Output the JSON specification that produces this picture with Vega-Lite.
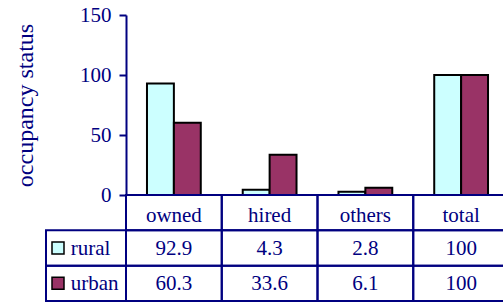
{
  "$schema": "https://vega.github.io/schema/vega-lite/v6.json",
  "width": 377,
  "height": 180,
  "autosize": {"type": "none"},
  "padding": {"left": 126, "top": 15, "right": 0, "bottom": 107},
  "background": "white",
  "config": {"view": {"stroke": null}, "font": "Liberation Serif"},
  "datasets": {
    "vals": [
      {"cat": "owned", "series": "rural", "value": 92.9},
      {"cat": "owned", "series": "urban", "value": 60.3},
      {"cat": "hired", "series": "rural", "value": 4.3},
      {"cat": "hired", "series": "urban", "value": 33.6},
      {"cat": "others", "series": "rural", "value": 2.8},
      {"cat": "others", "series": "urban", "value": 6.1},
      {"cat": "total", "series": "rural", "value": 100},
      {"cat": "total", "series": "urban", "value": 100}
    ],
    "cats": [{"cat": "owned"}, {"cat": "hired"}, {"cat": "others"}, {"cat": "total"}],
    "series": [{"series": "rural", "col": "legend"}, {"series": "urban", "col": "legend"}]
  },
  "resolve": {"scale": {"x": "independent", "y": "independent"}},
  "layer": [
    {
      "data": {"name": "vals"},
      "mark": {"type": "bar", "stroke": "black", "strokeWidth": 2},
      "encoding": {
        "x": {"field": "cat", "type": "nominal", "sort": null,
          "scale": {"domain": ["owned", "hired", "others", "total"], "range": [0, 383], "paddingInner": 0, "paddingOuter": 0},
          "axis": null},
        "xOffset": {"field": "series", "type": "nominal",
          "scale": {"domain": ["rural", "urban"], "paddingInner": 0, "paddingOuter": 0.78}},
        "y": {"field": "value", "type": "quantitative",
          "scale": {"domain": [0, 150], "nice": false},
          "axis": {"values": [0, 50, 100, 150], "title": "occupancy status", "grid": false,
            "titleFont": "Liberation Serif", "titleFontSize": 24, "titleFontWeight": "normal", "titleColor": "#000080", "titlePadding": 42,
            "labelFont": "Liberation Serif", "labelFontSize": 21, "labelColor": "#000080", "labelPadding": 8,
            "tickColor": "#000080", "tickWidth": 2, "tickSize": 7, "domainColor": "#000080", "domainWidth": 2}},
        "fill": {"field": "series", "type": "nominal",
          "scale": {"domain": ["rural", "urban"], "range": ["#CCFFFF", "#993366"]}, "legend": null}
      }
    },
    {
      "data": {"name": "cats"},
      "mark": {"type": "rect", "fill": "transparent", "stroke": "#000080", "strokeWidth": 2},
      "encoding": {
        "x": {"field": "cat", "type": "nominal", "sort": null,
          "scale": {"domain": ["owned", "hired", "others", "total"], "range": [0, 383], "paddingInner": 0, "paddingOuter": 0},
          "axis": null},
        "y": {"datum": "header", "type": "nominal",
          "scale": {"domain": ["header", "rural", "urban"], "range": [180, 286], "paddingInner": 0, "paddingOuter": 0},
          "axis": null}
      }
    },
    {
      "data": {"name": "cats"},
      "mark": {"type": "text", "font": "Liberation Serif", "fontSize": 21, "color": "#000080", "dy": 3},
      "encoding": {
        "x": {"field": "cat", "type": "nominal", "sort": null,
          "scale": {"domain": ["owned", "hired", "others", "total"], "range": [0, 383], "paddingInner": 0, "paddingOuter": 0},
          "axis": null},
        "y": {"datum": "header", "type": "nominal",
          "scale": {"domain": ["header", "rural", "urban"], "range": [180, 286], "paddingInner": 0, "paddingOuter": 0},
          "axis": null},
        "text": {"field": "cat", "type": "nominal"}
      }
    },
    {
      "data": {"name": "vals"},
      "mark": {"type": "rect", "fill": "transparent", "stroke": "#000080", "strokeWidth": 2},
      "encoding": {
        "x": {"field": "cat", "type": "nominal", "sort": null,
          "scale": {"domain": ["owned", "hired", "others", "total"], "range": [0, 383], "paddingInner": 0, "paddingOuter": 0},
          "axis": null},
        "y": {"field": "series", "type": "nominal",
          "scale": {"domain": ["header", "rural", "urban"], "range": [180, 286], "paddingInner": 0, "paddingOuter": 0},
          "axis": null}
      }
    },
    {
      "data": {"name": "vals"},
      "mark": {"type": "text", "font": "Liberation Serif", "fontSize": 21, "color": "#000080", "dy": 1},
      "encoding": {
        "x": {"field": "cat", "type": "nominal", "sort": null,
          "scale": {"domain": ["owned", "hired", "others", "total"], "range": [0, 383], "paddingInner": 0, "paddingOuter": 0},
          "axis": null},
        "y": {"field": "series", "type": "nominal",
          "scale": {"domain": ["header", "rural", "urban"], "range": [180, 286], "paddingInner": 0, "paddingOuter": 0},
          "axis": null},
        "text": {"field": "value", "type": "nominal"}
      }
    },
    {
      "data": {"name": "series"},
      "mark": {"type": "rect", "fill": "transparent", "stroke": "#000080", "strokeWidth": 2},
      "encoding": {
        "x": {"field": "col", "type": "nominal",
          "scale": {"domain": ["legend"], "range": [-80, 0], "paddingInner": 0, "paddingOuter": 0},
          "axis": null},
        "y": {"field": "series", "type": "nominal",
          "scale": {"domain": ["header", "rural", "urban"], "range": [180, 286], "paddingInner": 0, "paddingOuter": 0},
          "axis": null}
      }
    },
    {
      "data": {"name": "series"},
      "mark": {"type": "square", "size": 144, "filled": true, "opacity": 1, "stroke": "black", "strokeWidth": 1.5},
      "encoding": {
        "x": {"field": "col", "type": "nominal",
          "scale": {"type": "point", "domain": ["legend"], "range": [-80, 0], "align": 0.15},
          "axis": null},
        "y": {"field": "series", "type": "nominal",
          "scale": {"domain": ["header", "rural", "urban"], "range": [180, 286], "paddingInner": 0, "paddingOuter": 0},
          "axis": null},
        "fill": {"field": "series", "type": "nominal",
          "scale": {"domain": ["rural", "urban"], "range": ["#CCFFFF", "#993366"]}, "legend": null}
      }
    },
    {
      "data": {"name": "series"},
      "mark": {"type": "text", "font": "Liberation Serif", "fontSize": 21, "color": "#000080", "align": "left", "dy": 1},
      "encoding": {
        "x": {"field": "col", "type": "nominal",
          "scale": {"type": "point", "domain": ["legend"], "range": [-80, 0], "align": 0.31},
          "axis": null},
        "y": {"field": "series", "type": "nominal",
          "scale": {"domain": ["header", "rural", "urban"], "range": [180, 286], "paddingInner": 0, "paddingOuter": 0},
          "axis": null},
        "text": {"field": "series", "type": "nominal"}
      }
    }
  ]
}
